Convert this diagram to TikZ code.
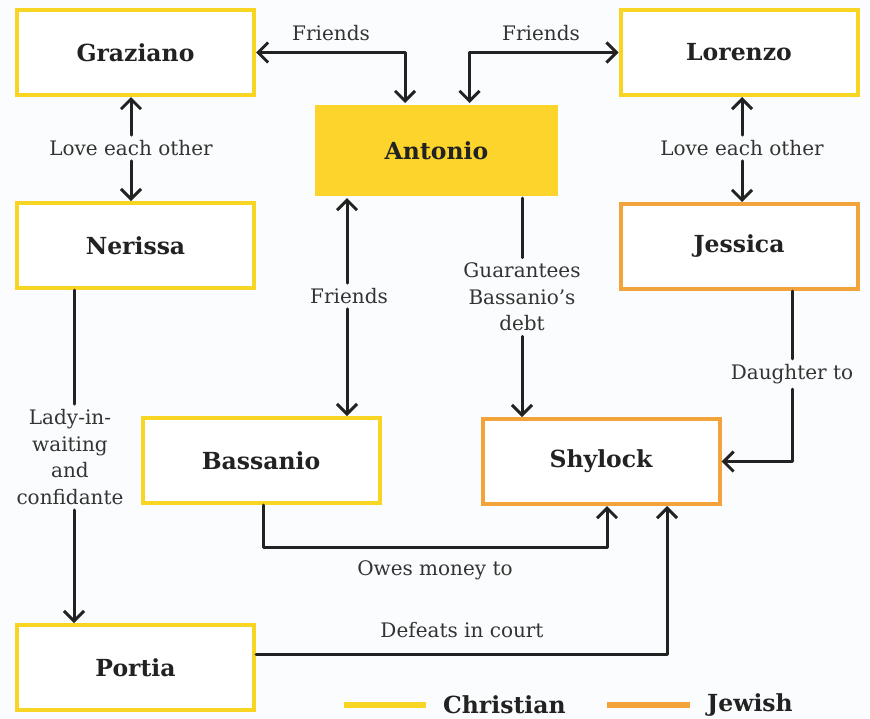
\documentclass[tikz,border=0pt]{standalone}
\usepackage{fontspec}
\setmainfont{DejaVu Serif}
\usetikzlibrary{arrows.meta}
\definecolor{chr}{HTML}{F8D423}
\definecolor{jew}{HTML}{F2A43A}
\definecolor{antfill}{HTML}{FCD42C}
\definecolor{ink}{HTML}{222222}
\definecolor{labc}{HTML}{333333}
\definecolor{bg}{HTML}{FBFCFD}
\begin{document}
\begin{tikzpicture}[x=1pt,y=-1pt,
  person/.style={draw=chr, line width=4pt, minimum width=237pt, minimum height=85pt,
    fill=white, font=\bfseries\fontsize{23.5}{26}\selectfont, text=ink, inner sep=0pt},
  jewbox/.style={person, draw=jew},
  lbl/.style={font=\fontsize{20}{26.7}\selectfont, text=labc, fill=bg, inner sep=5pt, align=center},
  toplbl/.style={font=\fontsize{20}{26.7}\selectfont, text=labc, inner sep=0pt},
  tip/.tip={Straight Barb[length=10pt,width=20pt]},
  conn/.style={draw=ink, line width=3pt, line cap=round, line join=round, -tip},
  plain/.style={draw=ink, line width=3pt, line cap=round, line join=round},
  legline/.style={line width=6pt},
  legtxt/.style={font=\bfseries\fontsize{23.5}{26}\selectfont, text=ink, anchor=west, inner sep=0pt}
]
\fill[bg] (0,0) rectangle (870,718);
\useasboundingbox (0,0) rectangle (870,718);

% people
\node[person] (gra) at (135.5,52.5) {Graziano};
\node[person] (ner) at (135.5,245.5) {Nerissa};
\node[person, draw=none, fill=antfill, minimum width=243pt, minimum height=91pt] (ant) at (436.5,150.5) {Antonio};
\node[person] (lor) at (739,52.5) {Lorenzo};
\node[jewbox] (jes) at (739,246.5) {Jessica};
\node[person] (bas) at (261,460.5) {Bassanio};
\node[jewbox] (shy) at (601,461.5) {Shylock};
\node[person] (por) at (135.5,667.5) {Portia};

% labels
\node[lbl] (love1) at (131,148) {Love each other};
\node[lbl] (love2) at (742,148) {Love each other};
\node[toplbl] (fr1) at (331,33) {Friends};
\node[toplbl] (fr2) at (541,33) {Friends};
\node[lbl] (fr3) at (349,296) {Friends};
\node[lbl] (gua) at (522,297) {Guarantees\\Bassanio’s\\debt};
\node[lbl] (dau) at (792,374) {Daughter to};
\node[lbl] (lad) at (70,457) {Lady-in-\\waiting\\and\\confidante};
\node[toplbl] (owe) at (435,570) {Owes money to};
\node[toplbl] (def) at (462,630) {Defeats in court};

% connectors
\draw[conn] (love1) -- (love1 |- gra.south);
\draw[conn] (love1) -- (love1 |- ner.north);
\draw[conn] (love2) -- (love2 |- lor.south);
\draw[conn] (love2) -- (love2 |- jes.north);

\draw[conn, tip-tip] (gra.east) -| ([xshift=-31.5pt]ant.north);
\draw[conn, tip-tip] (lor.west) -| ([xshift=33pt]ant.north);

\draw[conn] ([xshift=-2pt]fr3.north) -- ([xshift=-2pt]fr3.north |- ant.south);
\draw[conn] ([xshift=-2pt]fr3.south) -- ([xshift=-2pt]fr3.south |- bas.north);

\draw[plain] (gua |- ant.south) -- (gua);
\draw[conn] (gua) -- (gua |- shy.north);

\draw[plain] (dau |- jes.south) -- (dau);
\draw[conn] (dau) |- (shy.east);

\draw[plain] ([xshift=4pt]lad.north |- ner.south) -- ([xshift=4pt]lad.north);
\draw[conn] ([xshift=4pt]lad.south) -- ([xshift=4pt]lad.south |- por.north);

\draw[conn] ([xshift=2pt]bas.south) -- ++(0,42.5) -| ([xshift=6pt]shy.south);
\draw[conn] ([yshift=13.5pt]por.east) -| ([xshift=66pt]shy.south);

% legend
\coordinate (c1) at (344,705);
\coordinate (c2) at (426,705);
\coordinate (j1) at (607,705);
\coordinate (j2) at (690,705);
\draw[chr, legline] (c1) -- (c2);
\draw[jew, legline] (j1) -- (j2);
\node[legtxt] (ctxt) at (443,705) {Christian};
\node[legtxt] (jtxt) at (707,705) {Jewish};
\end{tikzpicture}
\end{document}
